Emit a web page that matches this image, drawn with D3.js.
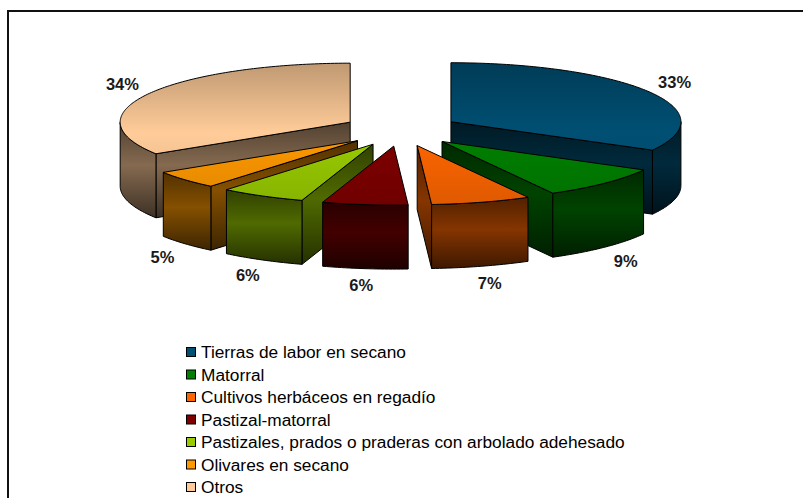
<!DOCTYPE html>
<html>
<head>
<meta charset="utf-8">
<script src="https://cdn.jsdelivr.net/npm/d3@7/dist/d3.min.js"></script>
<style>
  html, body { margin: 0; padding: 0; background: #fff; }
  svg { display: block; }
</style>
</head>
<body>
<svg id="chart" width="803" height="498"></svg>
<script>
// Land-use shares (percent of total area)
const categories = [
  "Tierras de labor en secano",
  "Matorral",
  "Cultivos herbáceos en regadío",
  "Pastizal-matorral",
  "Pastizales, prados o praderas con arbolado adehesado",
  "Olivares en secano",
  "Otros"
];
const values = [33, 9, 7, 6, 6, 5, 34];
const colors = ["#005074", "#008000", "#ff6600", "#800000", "#99cc00", "#ff9900", "#ffcc99"];

const W = 803, H = 498;
const svg = d3.select("#chart");
const defs = svg.append("defs");

// Frame around the chart area
svg.append("rect")
  .attr("x", 8).attr("y", 11)
  .attr("width", W + 20).attr("height", H + 20)
  .attr("fill", "none").attr("stroke", "#111").attr("stroke-width", 2);

// 3D pie geometry
const cx = 401, cy = 130;      // pie centre (top face)
const rx = 230, ry = 59;       // ellipse radii of the tilted top
const depth = 64;              // extrusion height
const explode = 58;            // outward offset of every slice
const explodeY = 0.28;         // vertical squash for the offset

const arcs = d3.pie().sort(null).value(d => d)(values);

function shade(hex, f) {
  const c = d3.rgb(hex);
  return d3.rgb(c.r * f, c.g * f, c.b * f).formatHex();
}
function rim(c, a) {
  return [c[0] + rx * Math.sin(a), c[1] - ry * Math.cos(a)];
}
function sampleAngles(a0, a1) {
  const n = Math.max(2, Math.ceil((a1 - a0) / (Math.PI / 180)));
  return d3.range(n + 1).map(i => a0 + (a1 - a0) * i / n);
}
const line = d3.line().curve(d3.curveLinear);

// Gradients: tops share one vertical ramp over the whole pie, sides use their own box
colors.forEach((col, i) => {
  const gt = defs.append("linearGradient")
    .attr("id", "top" + i)
    .attr("gradientUnits", "userSpaceOnUse")
    .attr("x1", 0).attr("y1", cy - ry - 5)
    .attr("x2", 0).attr("y2", cy + ry + 25);
  gt.append("stop").attr("offset", "0%").attr("stop-color", shade(col, 0.76));
  gt.append("stop").attr("offset", "45%").attr("stop-color", col);
  gt.append("stop").attr("offset", "100%").attr("stop-color", shade(col, 0.86));

  const gs = defs.append("linearGradient")
    .attr("id", "side" + i)
    .attr("x1", 0).attr("y1", 0).attr("x2", 0).attr("y2", 1);
  gs.append("stop").attr("offset", "0%").attr("stop-color", shade(col, 0.32));
  gs.append("stop").attr("offset", "45%").attr("stop-color", shade(col, 0.52));
  gs.append("stop").attr("offset", "100%").attr("stop-color", shade(col, 0.24));
});

const slices = arcs.map((p, i) => {
  const mid = (p.startAngle + p.endAngle) / 2;
  const apex = [cx + explode * Math.sin(mid), cy - explode * explodeY * Math.cos(mid)];
  return { p, i, mid, apex };
});

// Paint back slices first
const order = slices.slice().sort((a, b) => a.apex[1] - b.apex[1]);
const gPie = svg.append("g");

order.forEach(s => {
  const { p, i, apex } = s;
  const a0 = p.startAngle, a1 = p.endAngle;
  const g = gPie.append("g");
  const style = sel => sel.attr("stroke", "#000").attr("stroke-width", 1).attr("stroke-linejoin", "round");

  // Radial cut faces facing the viewer
  const faces = [];
  if (Math.sin(a0) < -1e-6) faces.push(a0);
  if (Math.sin(a1) > 1e-6) faces.push(a1);
  faces.forEach(a => {
    const r = rim(apex, a);
    const pts = [apex, r, [r[0], r[1] + depth], [apex[0], apex[1] + depth]];
    g.append("path").attr("d", line(pts) + "Z").attr("fill", `url(#side${i})`).call(style);
  });

  // Outer curved wall (front half only)
  const lo = Math.max(a0, Math.PI / 2), hi = Math.min(a1, 3 * Math.PI / 2);
  if (lo < hi) {
    const top = sampleAngles(lo, hi).map(a => rim(apex, a));
    const bottom = top.slice().reverse().map(q => [q[0], q[1] + depth]);
    g.append("path").attr("d", line(top.concat(bottom)) + "Z")
      .attr("fill", `url(#side${i})`).call(style);
  }

  // Top face
  const topPts = [apex].concat(sampleAngles(a0, a1).map(a => rim(apex, a)));
  g.append("path").attr("d", line(topPts) + "Z").attr("fill", `url(#top${i})`).call(style);
});

// Percentage labels
const pct = d3.format(".0f");
svg.append("g").selectAll("text").data(slices).join("text")
  .attr("x", s => s.apex[0] + rx * 1.13 * Math.sin(s.mid))
  .attr("y", s => s.apex[1] - ry * 1.2 * Math.cos(s.mid) + (Math.cos(s.mid) < 0 ? depth + 5 : -4))
  .attr("text-anchor", "middle")
  .attr("dominant-baseline", "central")
  .attr("font-family", "'Liberation Sans', Arial, sans-serif")
  .attr("font-weight", "bold")
  .attr("font-size", 16.5)
  .attr("fill", "#1a1a1a")
  .text(s => pct(values[s.i]) + "%");

// Legend
const legendY = d3.scalePoint().domain(categories).range([352, 487]);
const legend = svg.append("g").selectAll("g").data(categories).join("g")
  .attr("transform", d => `translate(186,${legendY(d)})`);
legend.append("rect")
  .attr("x", 0.5).attr("y", -4.5).attr("width", 9).attr("height", 9)
  .attr("fill", (d, i) => colors[i]).attr("stroke", "#000").attr("stroke-width", 1);
legend.append("text")
  .attr("x", 15).attr("y", 0)
  .attr("dominant-baseline", "central")
  .attr("font-family", "'Liberation Sans', Arial, sans-serif")
  .attr("font-size", 17.3)
  .attr("fill", "#000")
  .text(d => d);
</script>
</body>
</html>
